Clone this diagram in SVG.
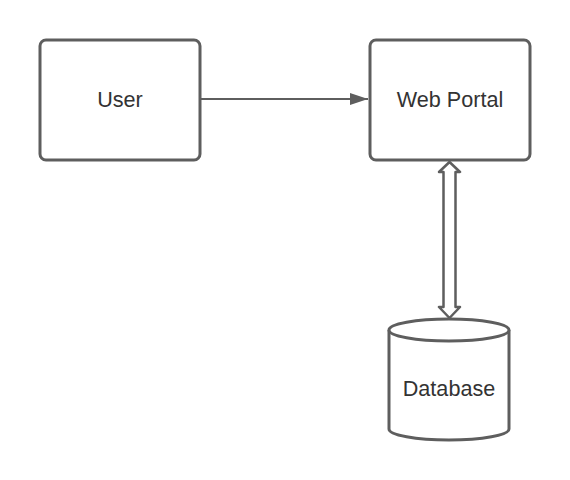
<svg xmlns="http://www.w3.org/2000/svg" width="570" height="480" viewBox="0 0 570 480">
<style>
.box{fill:#ffffff;stroke:#5e5e5e;stroke-width:3}
.lbl{font-family:"Liberation Sans",Arial,sans-serif;font-size:21.6px;fill:#333333;text-anchor:middle;dominant-baseline:central}
.line{fill:none;stroke:#5e5e5e;stroke-width:2}
</style>
<defs>
<marker id="arrBig" markerWidth="18" markerHeight="12" refX="18" refY="6" orient="auto" markerUnits="userSpaceOnUse" viewBox="0 0 18 12">
<path d="M0,0 L18,6 L0,12 Z" fill="#5e5e5e"/>
</marker>
</defs>
<rect width="570" height="480" fill="#ffffff"/>
<g id="connectors">
<line class="line" x1="201" y1="99" x2="368" y2="99" marker-end="url(#arrBig)"/>
<path d="M449.5,162 L460,172 L455.5,172 L455.5,307 L460,307 L449.5,318 L439,307 L443.5,307 L443.5,172 L439,172 Z" fill="#ffffff" stroke="#5e5e5e" stroke-width="2.5" stroke-linejoin="round"/>
</g>
<g id="user">
<rect class="box" x="40" y="40" width="160" height="120" rx="6"/>
<text class="lbl" x="120" y="99">User</text>
</g>
<g id="webportal">
<rect class="box" x="370" y="40" width="160" height="120" rx="6"/>
<text class="lbl" x="450" y="99">Web Portal</text>
</g>
<g id="database">
<path class="box" d="M389,330 L389,429 A60,11 0 0 0 509,429 L509,330 A60,11 0 0 0 389,330 Z"/>
<path class="box" fill="none" d="M389,330 A60,11 0 0 0 509,330"/>
<text class="lbl" x="449" y="388">Database</text>
</g>
</svg>
